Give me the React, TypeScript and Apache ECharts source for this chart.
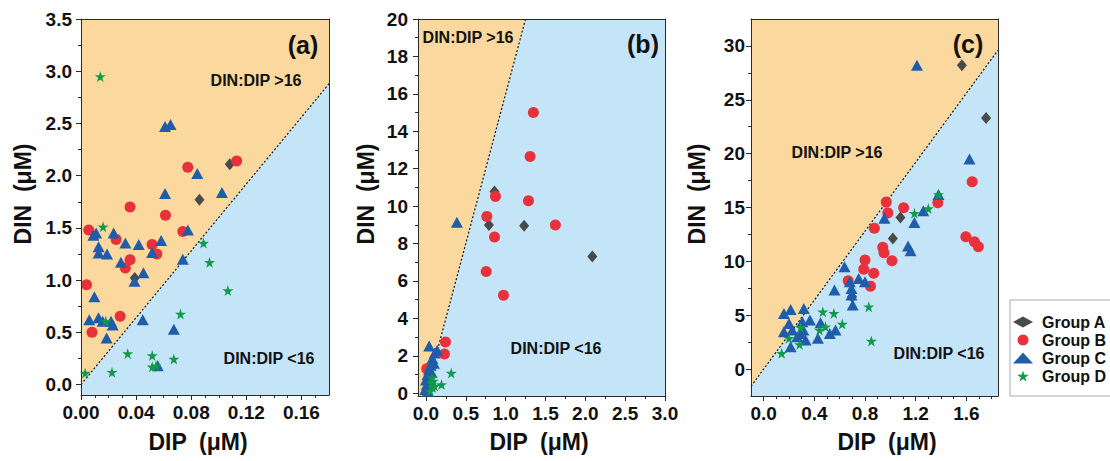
import React, { useEffect, useRef } from 'react';
import * as echarts from 'echarts';

const RATIO = 16;
const FONT = "'Liberation Sans', Arial, Helvetica, sans-serif";
const ORANGE = '#FBD89D';
const BLUE = '#C4E4F7';
const AXIS = '#2a2a2a';

const groupNames = ['Group A', 'Group B', 'Group C', 'Group D'];
const groupColors = ['#4a4a4a', '#E8313A', '#1F5DAA', '#12994A'];
const STAR = 'path://M50,0 L61,35 L98,35 L68,57 L79,91 L50,70 L21,91 L32,57 L2,35 L39,35 Z';
const groupSymbols = ['diamond', 'circle', 'triangle', STAR];
const groupSizes: any[] = [[10, 12], 11, [12, 11], 11];

// ---------- Panel (a) ----------
const aXRange = [0, 0.18];
const aYRange = [-0.1, 3.5];
const aXTicks = [0, 0.04, 0.08, 0.12, 0.16];
const aXMinor = [0.01, 0.02, 0.03, 0.05, 0.06, 0.07, 0.09, 0.1, 0.11, 0.13, 0.14, 0.15, 0.17];
const aYTicks = [0, 0.5, 1, 1.5, 2, 2.5, 3, 3.5];
const aYMinor = [0.25, 0.75, 1.25, 1.75, 2.25, 2.75, 3.25];
const aGroupA = [[0.039, 1.02], [0.086, 1.77], [0.108, 2.11]];
const aGroupB = [
  [0.0056, 1.48], [0.0255, 1.39], [0.0356, 1.7], [0.0613, 1.62], [0.0775, 2.08], [0.113, 2.14],
  [0.0739, 1.465], [0.0516, 1.34], [0.055, 1.25], [0.0356, 1.195], [0.0322, 1.115], [0.004, 0.956],
  [0.0284, 0.653], [0.008, 0.5],
];
const aGroupC = [
  [0.061, 2.47], [0.065, 2.49], [0.0844, 2.02], [0.061, 1.83], [0.1023, 1.84], [0.009, 1.43],
  [0.011, 1.45], [0.0237, 1.45], [0.0322, 1.355], [0.0419, 1.34], [0.0128, 1.32], [0.0128, 1.26],
  [0.0189, 1.25], [0.0516, 1.265], [0.0582, 1.38], [0.0776, 1.48], [0.029, 1.17], [0.0739, 1.2],
  [0.0388, 0.99], [0.0453, 1.07], [0.0097, 0.84], [0.006, 0.62], [0.0127, 0.64], [0.0157, 0.605],
  [0.0218, 0.605], [0.023, 0.57], [0.0186, 0.445], [0.0448, 0.62], [0.0674, 0.53], [0.0557, 0.18],
];
const aGroupD = [
  [0.014, 2.95], [0.016, 1.51], [0.018, 0.605], [0.0889, 1.355], [0.0933, 1.17], [0.1066, 0.9],
  [0.0722, 0.676], [0.0339, 0.296], [0.0517, 0.277], [0.0517, 0.17], [0.0545, 0.18], [0.0674, 0.245],
  [0.0225, 0.118], [0.003, 0.11],
];

// ---------- Panel (b) ----------
const bXRange = [-0.1, 3.0];
const bYRange = [-0.15, 20];
const bXTicks = [0, 0.5, 1, 1.5, 2, 2.5, 3];
const bXMinor = [0.25, 0.75, 1.25, 1.75, 2.25, 2.75];
const bYTicks = [0, 2, 4, 6, 8, 10, 12, 14, 16, 18, 20];
const bYMinor = [1, 3, 5, 7, 9, 11, 13, 15, 17, 19];
const bGroupA = [[0.86, 10.78], [0.79, 8.99], [1.232, 8.95], [2.088, 7.31]];
const bGroupB = [
  [1.348, 15.0], [1.307, 12.65], [1.286, 10.29], [0.872, 10.52], [0.764, 9.45], [1.624, 8.99],
  [0.86, 8.35], [0.756, 6.51], [0.973, 5.23], [0.245, 2.74], [0.232, 2.1], [0.01, 1.3],
];
const bGroupC = [
  [0.388, 9.13], [0.04, 2.52], [0.14, 2.3], [0.11, 2.15], [0.08, 1.85], [0.1, 1.6], [0.06, 1.5],
  [0.04, 1.25], [0.07, 1.1], [0.02, 1.0], [0.03, 0.75], [0.0, 0.7], [0.01, 0.45], [-0.01, 0.2], [0.02, 0.1],
];
const bGroupD = [
  [0.317, 1.08], [0.195, 0.46], [0.075, 0.82], [0.07, 0.55], [0.085, 0.3], [0.055, 0.12], [0.11, 0.38], [0.09, 0.65],
];

// ---------- Panel (c) ----------
const cXRange = [-0.1, 1.85];
const cYRange = [-2.5, 32.5];
const cXTicks = [0, 0.4, 0.8, 1.2, 1.6];
const cXMinor = [0.1, 0.2, 0.3, 0.5, 0.6, 0.7, 0.9, 1.0, 1.1, 1.3, 1.4, 1.5, 1.7, 1.8];
const cYTicks = [0, 5, 10, 15, 20, 25, 30];
const cYMinor = [2.5, 7.5, 12.5, 17.5, 22.5, 27.5];
const cGroupA = [[1.565, 28.2], [1.756, 23.3], [1.08, 14.08], [1.02, 12.13], [0.698, 6.71]];
const cGroupB = [
  [1.646, 17.4], [1.375, 15.45], [1.105, 14.98], [0.968, 15.5], [0.98, 14.5], [0.874, 13.07],
  [0.94, 11.3], [0.95, 10.8], [1.013, 10.06], [1.596, 12.28], [1.664, 11.82], [1.695, 11.36],
  [0.8, 10.12], [0.79, 9.26], [0.869, 8.9], [0.843, 7.7], [0.667, 8.2],
];
const cGroupC = [
  [1.21, 28.2], [1.625, 19.5], [1.38, 16.2], [1.26, 14.7], [1.19, 13.6], [0.953, 14.0], [1.14, 11.42],
  [1.16, 10.98], [0.638, 9.5], [0.68, 8.1], [0.75, 8.42], [0.8, 8.1], [0.693, 7.49], [0.693, 6.87],
  [0.703, 5.94], [0.559, 7.34], [0.449, 4.3], [0.522, 3.3], [0.567, 3.62], [0.428, 2.85], [0.365, 4.55],
  [0.317, 5.63], [0.305, 4.39], [0.313, 3.62], [0.331, 2.69], [0.291, 3.31], [0.16, 5.17], [0.213, 5.54],
  [0.2, 4.24], [0.16, 3.46], [0.226, 3.62], [0.213, 2.07], [0.265, 3.0],
];
const cGroupD = [
  [1.38, 16.2], [1.3, 14.9], [1.19, 14.46], [0.83, 5.79], [0.85, 2.6], [0.467, 5.32], [0.554, 5.17],
  [0.62, 4.18], [0.488, 3.93], [0.441, 3.62], [0.142, 1.46], [0.2, 2.85], [0.283, 2.29], [0.291, 3.87],
];

const panels = [
  {
    grid: { left: 81, top: 19, width: 248, height: 376 },
    xRange: aXRange, yRange: aYRange, xTicks: aXTicks, xMinor: aXMinor, yTicks: aYTicks, yMinor: aYMinor,
    xDec: 2, yDec: 1, yMargin: 9, groups: [aGroupA, aGroupB, aGroupC, aGroupD],
  },
  {
    grid: { left: 418, top: 19, width: 247, height: 377 },
    xRange: bXRange, yRange: bYRange, xTicks: bXTicks, xMinor: bXMinor, yTicks: bYTicks, yMinor: bYMinor,
    xDec: 1, yDec: 0, yMargin: 10, groups: [bGroupA, bGroupB, bGroupC, bGroupD],
  },
  {
    grid: { left: 751, top: 19, width: 247, height: 377 },
    xRange: cXRange, yRange: cYRange, xTicks: cXTicks, xMinor: cXMinor, yTicks: cYTicks, yMinor: cYMinor,
    xDec: 1, yDec: 0, yMargin: 6, groups: [cGroupA, cGroupB, cGroupC, cGroupD],
  },
];

function clipHalf(poly: number[][], above: boolean) {
  const f = (p: number[]) => (p[1] - RATIO * p[0]) * (above ? 1 : -1);
  const out: number[][] = [];
  for (let i = 0; i < poly.length; i++) {
    const a = poly[i];
    const b = poly[(i + 1) % poly.length];
    const fa = f(a);
    const fb = f(b);
    if (fa >= 0) out.push(a);
    if ((fa >= 0) !== (fb >= 0)) {
      const t = fa / (fa - fb);
      out.push([a[0] + t * (b[0] - a[0]), a[1] + t * (b[1] - a[1])]);
    }
  }
  return out;
}

function buildOption() {
  const grid: any[] = [];
  const xAxis: any[] = [];
  const yAxis: any[] = [];
  const series: any[] = [];
  const labelStyle = { fontFamily: FONT, fontWeight: 'bold', fontSize: 19, color: '#111' };

  panels.forEach((p, gi) => {
    grid.push({ ...p.grid, containLabel: false });
    const xMain = xAxis.length;
    xAxis.push({
      type: 'value', gridIndex: gi, position: 'bottom', min: p.xRange[0], max: p.xRange[1], z: 5,
      axisLine: { show: true, onZero: false, lineStyle: { color: AXIS, width: 1 } },
      axisTick: { show: true, inside: false, length: 5, customValues: p.xTicks, lineStyle: { color: AXIS } },
      axisLabel: { ...labelStyle, margin: 8, customValues: p.xTicks, formatter: (v: number) => v.toFixed(p.xDec) },
      splitLine: { show: false },
    });
    xAxis.push({
      type: 'value', gridIndex: gi, position: 'bottom', min: p.xRange[0], max: p.xRange[1], z: 5,
      axisLine: { show: false, onZero: false },
      axisTick: { show: true, length: 3, customValues: p.xMinor, lineStyle: { color: AXIS } },
      axisLabel: { show: false },
      splitLine: { show: false },
    });
    xAxis.push({
      type: 'value', gridIndex: gi, position: 'top', min: p.xRange[0], max: p.xRange[1], z: 5,
      axisLine: { show: true, onZero: false, lineStyle: { color: AXIS, width: 1 } },
      axisTick: { show: false }, axisLabel: { show: false }, splitLine: { show: false },
    });
    const yMain = yAxis.length;
    yAxis.push({
      type: 'value', gridIndex: gi, position: 'left', min: p.yRange[0], max: p.yRange[1], z: 5,
      axisLine: { show: true, onZero: false, lineStyle: { color: AXIS, width: 1 } },
      axisTick: { show: true, length: 5, customValues: p.yTicks, lineStyle: { color: AXIS } },
      axisLabel: { ...labelStyle, margin: p.yMargin, customValues: p.yTicks, formatter: (v: number) => v.toFixed(p.yDec) },
      splitLine: { show: false },
    });
    yAxis.push({
      type: 'value', gridIndex: gi, position: 'left', min: p.yRange[0], max: p.yRange[1], z: 5,
      axisLine: { show: false, onZero: false },
      axisTick: { show: true, length: 3, customValues: p.yMinor, lineStyle: { color: AXIS } },
      axisLabel: { show: false }, splitLine: { show: false },
    });
    yAxis.push({
      type: 'value', gridIndex: gi, position: 'right', min: p.yRange[0], max: p.yRange[1], z: 5,
      axisLine: { show: true, onZero: false, lineStyle: { color: AXIS, width: 1 } },
      axisTick: { show: false }, axisLabel: { show: false }, splitLine: { show: false },
    });

    const [x0, x1] = p.xRange;
    const [y0, y1] = p.yRange;
    series.push({
      type: 'custom', xAxisIndex: xMain, yAxisIndex: yMain, silent: true, z: 1,
      data: [[x0, y0]],
      renderItem: (_params: any, api: any) => {
        const corners = [[x0, y0], [x1, y0], [x1, y1], [x0, y1]];
        const up = clipHalf(corners, true).map((c) => api.coord(c));
        const down = clipHalf(corners, false).map((c) => api.coord(c));
        return {
          type: 'group',
          children: [
            { type: 'polygon', shape: { points: up }, style: { fill: ORANGE } },
            { type: 'polygon', shape: { points: down }, style: { fill: BLUE } },
          ],
        };
      },
    });
    const lx0 = Math.max(x0, y0 / RATIO);
    const lx1 = Math.min(x1, y1 / RATIO);
    series.push({
      type: 'line', xAxisIndex: xMain, yAxisIndex: yMain, silent: true, z: 2,
      data: [[lx0, lx0 * RATIO], [lx1, lx1 * RATIO]],
      showSymbol: false, symbol: 'none',
      lineStyle: { color: '#111', width: 1.2, type: [2, 2] },
    });
    p.groups.forEach((g, k) => {
      series.push({
        type: 'scatter', name: groupNames[k], xAxisIndex: xMain, yAxisIndex: yMain, z: 3 + k,
        data: g, symbol: groupSymbols[k], symbolSize: groupSizes[k],
        itemStyle: { color: groupColors[k], opacity: 1 },
      });
    });
  });

  const txt = (text: string, x: number, y: number, size: number, rotation = 0) => ({
    type: 'text', x, y, rotation, z: 50,
    style: {
      text, fontFamily: FONT, fontWeight: 'bold', fontSize: size, fill: '#111',
      align: 'center', verticalAlign: 'middle',
    },
  });

  const graphic = [
    txt('(a)', 303, 45, 25),
    txt('(b)', 643, 44, 25),
    txt('(c)', 968, 44, 25),
    txt('DIN:DIP >16', 256, 80, 16),
    txt('DIN:DIP <16', 269, 358, 16),
    txt('DIN:DIP >16', 468, 37, 16),
    txt('DIN:DIP <16', 556, 348, 16),
    txt('DIN:DIP >16', 837, 152, 16),
    txt('DIN:DIP <16', 939, 353, 16),
    txt('DIP  (μM)', 198, 442, 23),
    txt('DIP  (μM)', 539, 442, 23),
    txt('DIP  (μM)', 887, 442, 23),
    txt('DIN  (μM)', 23, 194, 23, Math.PI / 2),
    txt('DIN  (μM)', 366, 194, 23, Math.PI / 2),
    txt('DIN  (μM)', 697, 194, 23, Math.PI / 2),
  ];

  return {
    animation: false,
    backgroundColor: '#ffffff',
    grid, xAxis, yAxis, series, graphic,
    legend: {
      data: groupNames,
      orient: 'vertical',
      left: 1010, top: 300,
      padding: [13, 24, 11, 3],
      itemGap: 0,
      itemWidth: 20, itemHeight: 11,
      borderColor: '#aaaaaa', borderWidth: 1,
      textStyle: { fontFamily: FONT, fontWeight: 'bold', fontSize: 16, color: '#111', lineHeight: 18, padding: [0, 0, 0, 4] },
      selectedMode: false,
    },
  };
}

export default function App() {
  const ref = useRef<HTMLDivElement>(null);
  useEffect(() => {
    document.body.style.margin = '0';
    const chart = echarts.init(ref.current!, null, { renderer: 'svg' });
    chart.setOption(buildOption() as any);
    return () => chart.dispose();
  }, []);
  return <div ref={ref} style={{ width: 1110, height: 461 }} />;
}
